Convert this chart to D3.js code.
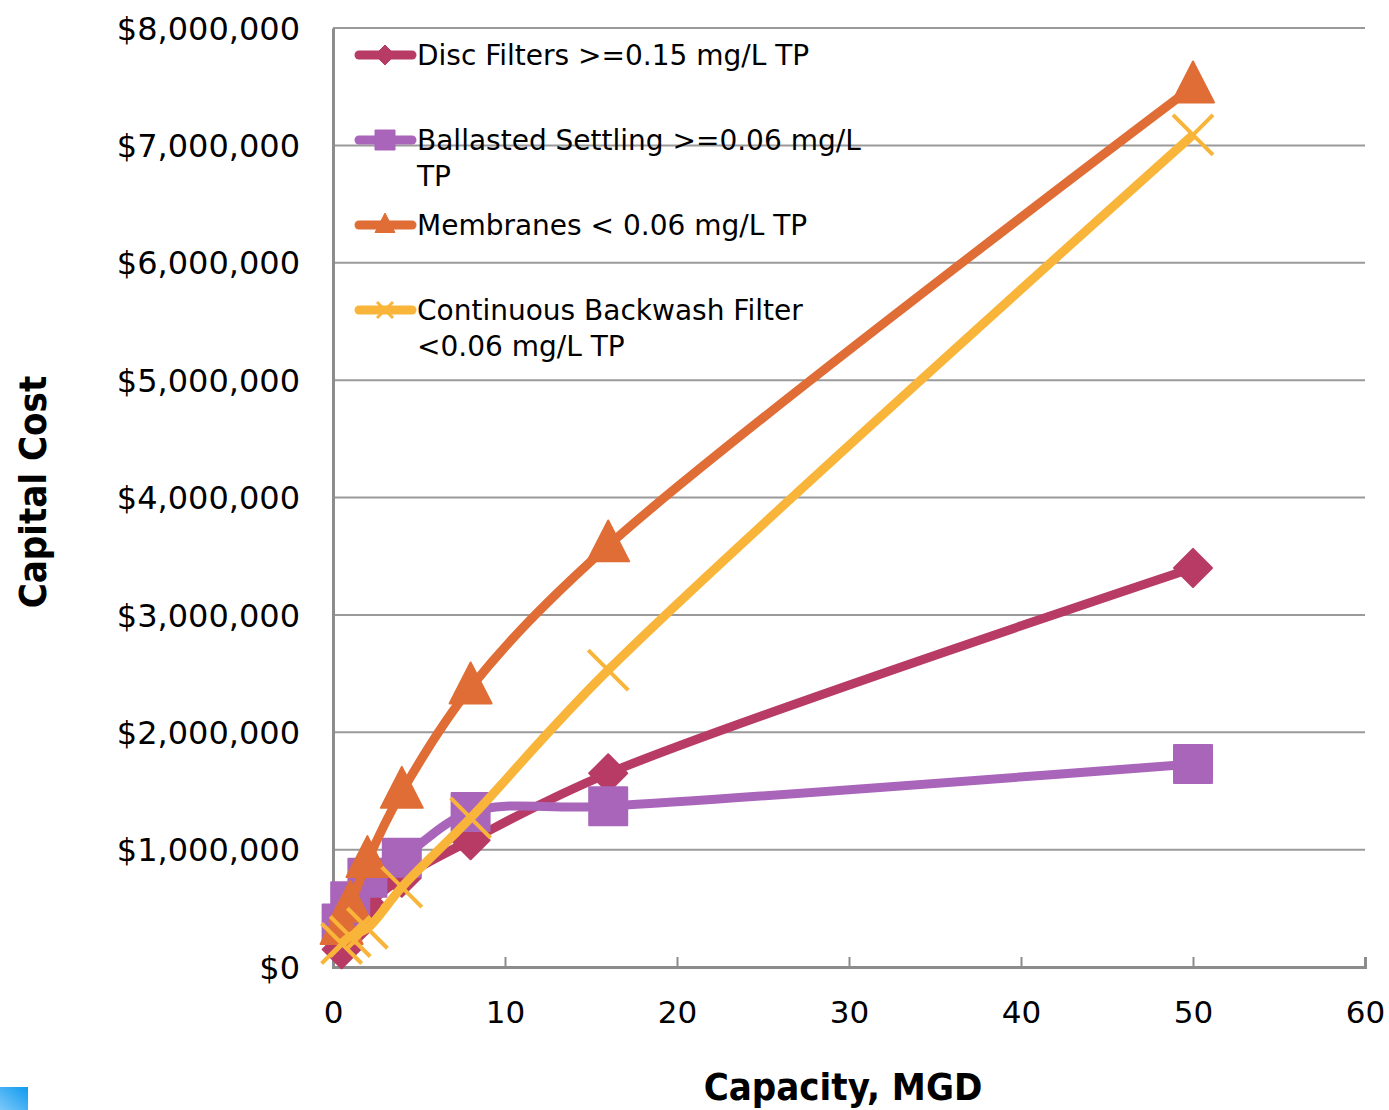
<!DOCTYPE html>
<html>
<head>
<meta charset="utf-8">
<script src="https://cdn.jsdelivr.net/npm/d3@7"></script>
<style>
  body { margin: 0; background: #fff; }
  svg { display: block; font-family: "DejaVu Sans", sans-serif; }
</style>
</head>
<body>
<svg id="chart" width="1389" height="1110"></svg>
<script>
"use strict";

// capacity (MGD) points shared by every series
const capacity = [0.5, 1, 2, 4, 8, 16, 50];

const discFilters = [150000, 300000, 520000, 760000, 1080000, 1650000, 3400000];
const ballasted = [370000, 560000, 760000, 930000, 1320000, 1370000, 1730000];
const membranes = [330000, 520000, 900000, 1490000, 2380000, 3590000, 7500000];
const contBackwash = [200000, 260000, 330000, 680000, 1270000, 2530000, 7090000];

const seriesNames = [
  ["Disc Filters >=0.15 mg/L TP"],
  ["Ballasted Settling >=0.06 mg/L", "TP"],
  ["Membranes < 0.06 mg/L TP"],
  ["Continuous Backwash Filter", "<0.06 mg/L TP"],
];
const xTicks = [0, 10, 20, 30, 40, 50, 60];
const yTicks = [0, 1000000, 2000000, 3000000, 4000000, 5000000, 6000000, 7000000, 8000000];

const colors = ["#B83B66", "#A965BA", "#DF6D35", "#F9B53A"];
const markers = ["diamond", "square", "triangle", "cross"];

const svg = d3.select("#chart");

const x = d3.scaleLinear().domain([0, 60]).range([333, 1365]);
const y = d3.scaleLinear().domain([0, 8000000]).range([967, 28]);

// gridlines
svg.append("g")
  .selectAll("line")
  .data(yTicks.slice(1))
  .join("line")
  .attr("x1", x(0))
  .attr("x2", x(60))
  .attr("y1", (d) => y(d))
  .attr("y2", (d) => y(d))
  .attr("stroke", "#9a9a9a")
  .attr("stroke-width", 2);

// y axis
const yAxis = svg.append("g")
  .attr("transform", `translate(${x(0)},0)`)
  .call(d3.axisLeft(y).tickValues(yTicks).tickSize(0).tickPadding(33)
    .tickFormat((d) => "$" + d3.format(",")(d)));
yAxis.attr("font-family", null);
yAxis.select(".domain").attr("stroke", "#8c8c8c").attr("stroke-width", 3);
yAxis.selectAll("text")
  .attr("font-size", 32)
  .attr("fill", "#000")
  .attr("dy", "0.35em");

// x axis (ticks point up into the plot)
const xAxis = svg.append("g")
  .attr("transform", `translate(0,${y(0)})`)
  .call(d3.axisBottom(x).tickValues(xTicks).tickSize(-10).tickPadding(34));
xAxis.attr("font-family", null);
xAxis.select(".domain").attr("stroke", "#8c8c8c").attr("stroke-width", 3);
xAxis.selectAll("line").attr("stroke", "#8c8c8c").attr("stroke-width", 2);
xAxis.selectAll("text").attr("font-size", 31).attr("fill", "#000");

// axis titles
svg.append("text")
  .attr("x", 843)
  .attr("y", 1100)
  .attr("text-anchor", "middle")
  .attr("font-family", "DejaVu Sans Condensed")
  .attr("font-size", 38)
  .attr("font-weight", "bold")
  .text("Capacity, MGD");

svg.append("text")
  .attr("transform", "translate(46,492) rotate(-90)")
  .attr("text-anchor", "middle")
  .attr("font-family", "DejaVu Sans Condensed")
  .attr("font-size", 38)
  .attr("font-weight", "bold")
  .text("Capital Cost");

// marker shapes, drawn around 0,0
function markerPath(kind, s) {
  if (kind == "diamond") {
    return `M0,${-s}L${s},0L0,${s}L${-s},0Z`;
  } else if (kind == "square") {
    return `M${-s},${-s}L${s},${-s}L${s},${s}L${-s},${s}Z`;
  } else if (kind == "triangle") {
    return `M0,${-s * 1.2}L${s},${s * 0.75}L${-s},${s * 0.75}Z`;
  }
  return `M${-s},${-s}L${s},${s}M${-s},${s}L${s},${-s}`;
}
const markerSize = { diamond: 19, square: 19, triangle: 21, cross: 20 };

const allSeries = [discFilters, ballasted, membranes, contBackwash];
const line = d3.line()
  .x((d) => x(d[0]))
  .y((d) => y(d[1]))
  .curve(d3.curveCatmullRom.alpha(0.5));

allSeries.forEach(function (vals, i) {
  const pts = capacity.map((c, k) => [c, vals[k]]);
  const g = svg.append("g");
  g.append("path")
    .attr("d", line(pts))
    .attr("fill", "none")
    .attr("stroke", colors[i])
    .attr("stroke-width", 9)
    .attr("stroke-linejoin", "round");
  const kind = markers[i];
  g.selectAll("path.mk")
    .data(pts)
    .join("path")
    .attr("class", "mk")
    .attr("transform", (d) => `translate(${x(d[0])},${y(d[1])})`)
    .attr("d", markerPath(kind, markerSize[kind]))
    .attr("fill", kind == "cross" ? "none" : colors[i])
    .attr("stroke", colors[i])
    .attr("stroke-width", kind == "cross" ? 4 : 2)
    .attr("stroke-linejoin", "round");
});

// legend inside the plot
const legendY = [55, 140, 225, 310];
const legend = svg.append("g");
seriesNames.forEach(function (lines, i) {
  const ly = legendY[i];
  legend.append("line")
    .attr("x1", 359)
    .attr("x2", 412)
    .attr("y1", ly)
    .attr("y2", ly)
    .attr("stroke", colors[i])
    .attr("stroke-width", 9)
    .attr("stroke-linecap", "round");
  const kind = markers[i];
  legend.append("path")
    .attr("transform", `translate(385,${ly})`)
    .attr("d", markerPath(kind, kind == "cross" ? 8 : 10))
    .attr("fill", kind == "cross" ? "none" : colors[i])
    .attr("stroke", colors[i])
    .attr("stroke-width", kind == "cross" ? 3 : 1);
  const t = legend.append("text")
    .attr("x", 417)
    .attr("y", ly + 10)
    .attr("font-size", 28)
    .attr("fill", "#000");
  lines.forEach(function (s, k) {
    t.append("tspan").attr("x", 417).attr("dy", k == 0 ? 0 : 36).text(s);
  });
});

// small blue corner tile
const grad = svg.append("defs").append("linearGradient")
  .attr("id", "tile")
  .attr("x1", "0").attr("y1", "1").attr("x2", "1").attr("y2", "0");
grad.append("stop").attr("offset", "0").attr("stop-color", "#7cc8f8");
grad.append("stop").attr("offset", "1").attr("stop-color", "#0e9af0");
svg.append("rect")
  .attr("x", 0).attr("y", 1087).attr("width", 28).attr("height", 23)
  .attr("fill", "url(#tile)");
</script>
</body>
</html>
